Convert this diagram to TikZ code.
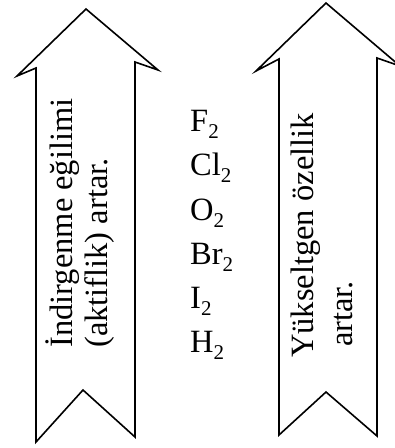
\documentclass[tikz,border=0pt]{standalone}
\usepackage{fontspec}
\setmainfont{Liberation Serif}
\newcommand\subtwo{\raisebox{-7.5pt}{\fontsize{21pt}{21pt}\selectfont 2}}
\tikzset{
  bigarrow/.style={draw=black, line width=1.6pt, fill=white, line join=miter},
  vtext/.style={rotate=90, anchor=base west, inner sep=0pt, font=\fontsize{32.5pt}{36pt}\selectfont},
  chem/.style={anchor=base west, inner sep=0pt, font=\fontsize{32.5pt}{36pt}\selectfont}
}
\begin{document}
\begin{tikzpicture}[x=1pt,y=-1pt]
\useasboundingbox[fill=white] (0,0) rectangle (395,448);
% left arrow
\draw[bigarrow] (86,9) -- (158,70) -- (135,62) -- (135,437) -- (83,390) -- (36,442) -- (36,68) -- (17,76) -- cycle;
% right arrow
\draw[bigarrow] (326,3) -- (400,66) -- (377,58) -- (377,436) -- (326,392) -- (279,435) -- (279,59) -- (256,71) -- cycle;
% left texts
\node[vtext] (l1) at (72,348) {İndirgenme eğilimi};
\node[vtext] (l2) at (107,348) {(aktiflik) artar.};
% right texts
\node[vtext] (r1) at (313,358) {Yükseltgen özellik};
\node[vtext] (r2) at (352,347) {artar.};
% list
\node[chem] (f) at (190,131) {F\subtwo};
\node[chem] (cl) at (190,175) {Cl\subtwo};
\node[chem] (o) at (190,220) {O\subtwo};
\node[chem] (br) at (190,264) {Br\subtwo};
\node[chem] (i) at (190,308) {I\subtwo};
\node[chem] (h) at (190,352) {H\subtwo};
\end{tikzpicture}
\end{document}
